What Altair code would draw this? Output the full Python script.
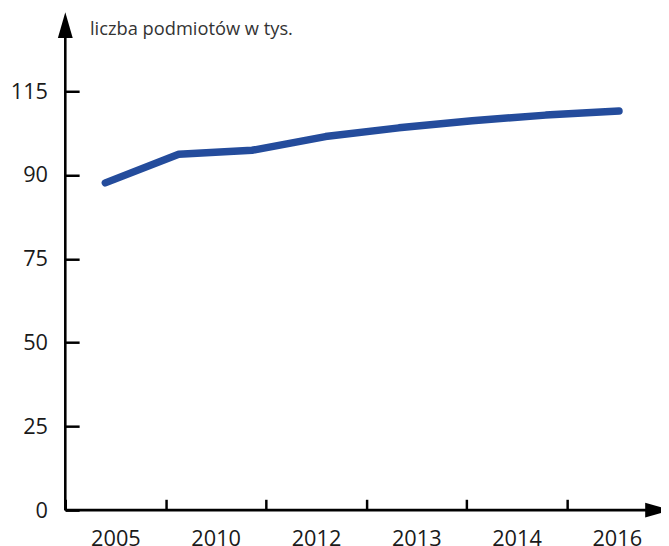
import altair as alt
import pandas as pd

# x-axis category labels
years = ["2005", "2010", "2012", "2013", "2014", "2016"]
# y-axis tick labels (unevenly valued, evenly spaced)
y_ticks = [0, 25, 50, 75, 90, 115]
# line series (thousands of entities), 8 points
point_idx = [0, 1, 2, 3, 4, 5, 6, 7]
values = [88.6, 96.2, 97.4, 101.5, 104.1, 106.2, 107.9, 109.1]

W, H = 603, 504
FONT = "Open Sans"
LINE_COLOR = "#244C9C"
INK = "#1a1a1a"

years_df = pd.DataFrame({"year": years})
line_df = pd.DataFrame({"idx": point_idx, "value": values})

band_layer = alt.Chart(years_df).mark_bar(opacity=0).encode(
    x=alt.X(
        "year:N",
        sort=None,
        scale=alt.Scale(type="band", range=[0, 609], paddingInner=0, paddingOuter=0),
        axis=alt.Axis(
            orient="bottom",
            offset=-11,
            tickSize=11,
            tickWidth=2.5,
            tickColor="black",
            tickBand="extent",
            domain=False,
            grid=False,
            labelAngle=0,
            labelFont=FONT,
            labelFontSize=22,
            labelColor=INK,
            labelBaseline="alphabetic",
            labelPadding=36,
            labelOverlap=False,
            title=None,
        ),
    )
)

line_layer = alt.Chart(line_df).mark_line(
    color=LINE_COLOR, strokeWidth=7.5, strokeCap="round", strokeJoin="round"
).encode(
    x=alt.X("idx:Q", scale=alt.Scale(domain=[-0.545, 7.572], nice=False, zero=False), axis=None),
    y=alt.Y(
        "value:Q",
        scale=alt.Scale(domain=y_ticks, range=[504, 419.2, 334.4, 249.6, 164.8, 80]),
        axis=alt.Axis(
            values=y_ticks,
            orient="left",
            offset=-14,
            tickSize=14,
            tickWidth=2.5,
            tickColor="black",
            domain=False,
            grid=False,
            labelFont=FONT,
            labelFontSize=22,
            labelColor=INK,
            labelPadding=18,
            labelOverlap=False,
            labelFlush=False,
            title=None,
        ),
    ),
)

y_axis_line = alt.Chart().mark_rule(color="black", strokeWidth=2.6).encode(
    x=alt.value(0), y=alt.value(20), y2=alt.value(H)
)
x_axis_line = alt.Chart().mark_rule(color="black", strokeWidth=2.6).encode(
    x=alt.value(0), x2=alt.value(592), y=alt.value(H)
)
up_arrow = alt.Chart().mark_point(
    shape="M0,-1L0.577,1L-0.577,1Z", size=676, filled=True, color="black", opacity=1, strokeWidth=0
).encode(x=alt.value(0), y=alt.value(13))
right_arrow = alt.Chart().mark_point(
    shape="M1,0L-1,0.577L-1,-0.577Z", size=676, filled=True, color="black", opacity=1, strokeWidth=0
).encode(x=alt.value(600), y=alt.value(H))

chart = (
    alt.layer(band_layer, line_layer, y_axis_line, x_axis_line, up_arrow, right_arrow)
    .resolve_scale(x="independent")
    .properties(
        width=W,
        height=H,
        autosize=alt.AutoSizeParams(type="none"),
        padding={"left": 58, "top": 1, "right": 0, "bottom": 34},
        title=alt.TitleParams(
            "liczba podmiotów w tys.",
            anchor="start",
            frame="group",
            orient="top",
            offset=0,
            dx=25,
            dy=42,
            baseline="alphabetic",
            font=FONT,
            fontSize=18.5,
            fontWeight="normal",
            color="#333333",
        ),
    )
    .configure_view(stroke=None)
)

chart.save("out.html", embed_options={"renderer": "svg", "actions": False})
